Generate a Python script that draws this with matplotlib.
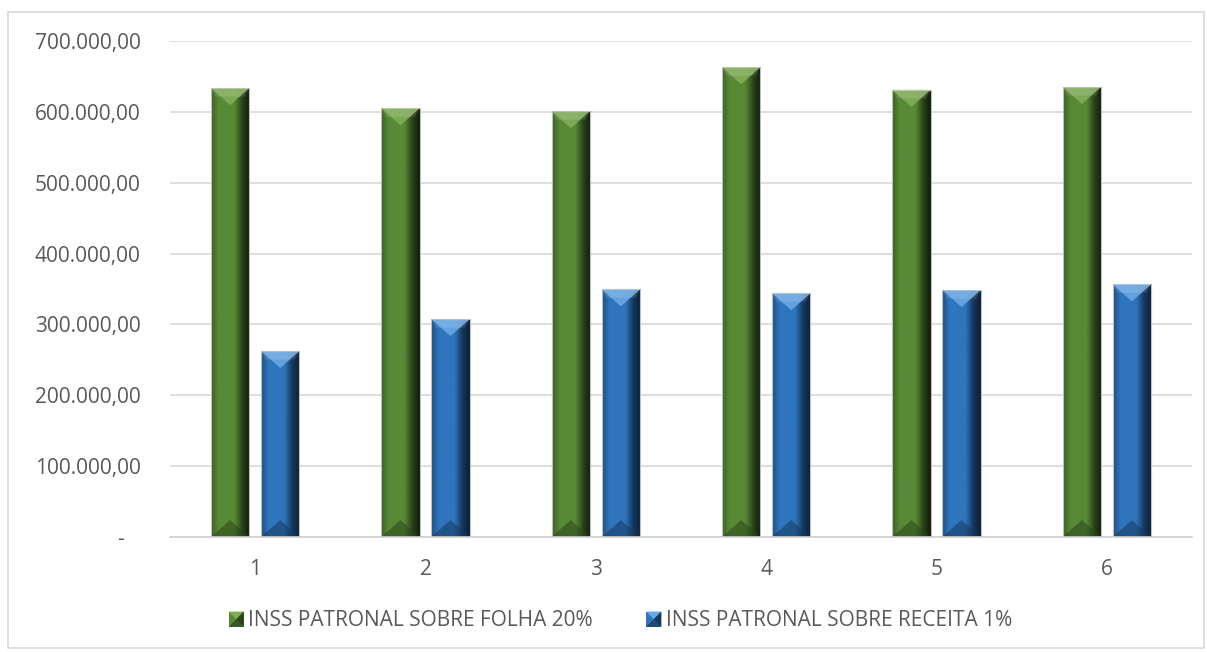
import numpy as np
import matplotlib
matplotlib.use("Agg")
import matplotlib.pyplot as plt
from matplotlib.patches import Polygon, Rectangle, Patch
from matplotlib.ticker import FuncFormatter, MultipleLocator
from matplotlib.legend_handler import HandlerPatch
from matplotlib.colors import LinearSegmentedColormap

plt.rcParams['font.family'] = ['Open Sans', 'DejaVu Sans']

# Data
periods = ["1", "2", "3", "4", "5", "6"]
folha_20 = [633500, 605000, 601000, 663000, 631000, 635000]
receita_1 = [262500, 307500, 349500, 344000, 348500, 356500]
series_names = ["INSS PATRONAL SOBRE FOLHA 20%", "INSS PATRONAL SOBRE RECEITA 1%"]

palette = {
    "green": dict(light="#80ad58", mid="#588a36", dark="#2a4519", edge="#3d6125", deep="#101a0a"),
    "blue": dict(light="#6aa7e2", mid="#2f75bd", dark="#15385e", edge="#1f4f82", deep="#0c1f36"),
}

W, H = 1207, 652
fig = plt.figure(figsize=(W / 100, H / 100), dpi=100)
fig.patches.append(Rectangle((8 / W, 4 / H), 1196 / W, 636 / H, transform=fig.transFigure,
                             fill=False, edgecolor="#d9d9d9", linewidth=1.2))

ax = fig.add_axes([170 / W, 1 - 537 / H, 1022 / W, 496 / H])
x = np.arange(len(periods))
bw = 0.225
off = 0.147

ax.set_xlim(-0.5, len(periods) - 0.5)
ax.set_ylim(0, 700000)
ax.yaxis.set_major_locator(MultipleLocator(100000))


def br_fmt(v, pos):
    # accounting style: zero shown as a dash, Brazilian separators otherwise
    if abs(v) < 1e-6:
        return "-   "
    s = f"{v:,.2f}"
    return s.replace(",", "X").replace(".", ",").replace("X", ".")


ax.yaxis.set_major_formatter(FuncFormatter(br_fmt))
ax.set_xticks(x)
ax.set_xticklabels(periods)
ax.tick_params(axis="both", length=0, labelsize=15, labelcolor="#595959")
ax.tick_params(axis="y", pad=21)
ax.tick_params(axis="x", pad=16)
ax.grid(axis="y", color="#d9d9d9", linewidth=1.2)
ax.set_axisbelow(True)
for s in ["top", "right", "left"]:
    ax.spines[s].set_visible(False)
ax.spines["bottom"].set_color("#d0d0d0")
ax.spines["bottom"].set_linewidth(1.2)

bars_g = ax.bar(x - off, folha_20, bw, color=palette["green"]["mid"], zorder=2)
bars_b = ax.bar(x + off, receita_1, bw, color=palette["blue"]["mid"], zorder=2)

fig.canvas.draw()
# bevel depth expressed in data units
px_y = 700000 / ax.bbox.height


def bevel(bar, pal):
    x0, y0 = bar.get_x(), bar.get_y()
    w, h = bar.get_width(), bar.get_height()
    x1, y1 = x0 + w, y0 + h
    cmap = LinearSegmentedColormap.from_list(
        "g", [pal["edge"], pal["mid"], pal["mid"], pal["mid"], pal["dark"], pal["deep"]])
    grad = np.linspace(0, 1, 200).reshape(1, -1)
    im = ax.imshow(grad, extent=[x0, x1, y0, y1], aspect="auto", cmap=cmap, zorder=2.1,
                   interpolation="bilinear")
    im.set_clip_path(bar)
    d = 17 * px_y
    xm = (x0 + x1) / 2
    ax.add_patch(Polygon([(x0, y1), (x1, y1), (xm, y1 - d)], closed=True,
                         facecolor=pal["light"], edgecolor="none", zorder=2.2, alpha=0.9))
    ax.add_patch(Polygon([(x0, y1), (x0 + w * 0.12, y1 - d * 0.5), (x1 - w * 0.12, y1 - d * 0.5), (x1, y1)],
                         closed=True, facecolor="white", edgecolor="none", zorder=2.25, alpha=0.12))
    ax.add_patch(Polygon([(x0, y0), (x1, y0), (xm, y0 + d)], closed=True,
                         facecolor=pal["dark"], edgecolor="none", zorder=2.2, alpha=0.55))
    ax.add_patch(Rectangle((x0, y0), w, h, fill=False, edgecolor="#bfbfbf", linewidth=0.8, zorder=2.3))


for b in bars_g:
    bevel(b, palette["green"])
for b in bars_b:
    bevel(b, palette["blue"])


class BevelHandler(HandlerPatch):
    def __init__(self, pal):
        super().__init__()
        self.pal = pal

    def create_artists(self, legend, orig_handle, xdescent, ydescent, width, height, fontsize, trans):
        s = 11
        x0 = -xdescent + width - s
        y0 = -ydescent + (height - s) / 2
        arts = [Rectangle((x0, y0), s, s, facecolor=self.pal["mid"], edgecolor="none", transform=trans)]
        c = (x0 + s / 2, y0 + s / 2)
        arts.append(Polygon([(x0, y0 + s), (x0 + s, y0 + s), c], facecolor=self.pal["light"], transform=trans))
        arts.append(Polygon([(x0 + s, y0 + s), (x0 + s, y0), c], facecolor=self.pal["dark"], transform=trans))
        arts.append(Polygon([(x0, y0), (x0 + s, y0), c], facecolor=self.pal["dark"], alpha=0.7, transform=trans))
        return arts


h1 = Patch(color=palette["green"]["mid"])
h2 = Patch(color=palette["blue"]["mid"])
fig.legend([h1, h2], series_names, loc="center", bbox_to_anchor=(620 / W, 1 - 621 / H), ncol=2,
           frameon=False, fontsize=15, labelcolor="#595959", handlelength=0.75, handletextpad=0.2,
           columnspacing=2.55,
           handler_map={h1: BevelHandler(palette["green"]), h2: BevelHandler(palette["blue"])})

fig.savefig("out.png", dpi=100, facecolor="white")
